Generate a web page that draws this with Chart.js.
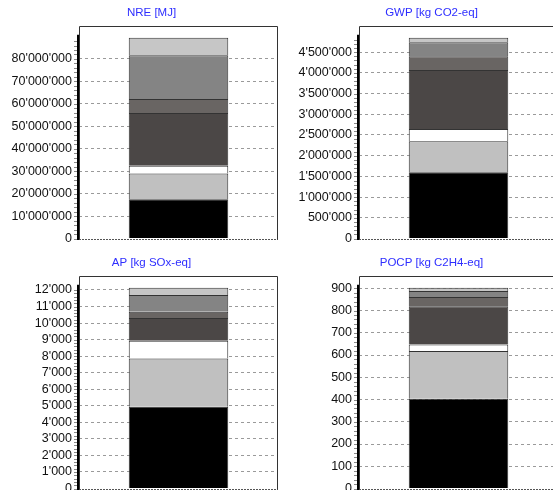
<!DOCTYPE html>
<html>
<head>
<meta charset="utf-8">
<script src="https://cdn.jsdelivr.net/npm/chart.js@4.4.1/dist/chart.umd.min.js"></script>
<style>
  html, body { margin: 0; padding: 0; background: #fff; overflow: hidden; }
  body { width: 553px; height: 490px; position: relative; }
  canvas { position: absolute; }
</style>
</head>
<body>
<canvas id="nre" width="280" height="253" style="left:0;top:0"></canvas>
<canvas id="gwp" width="280" height="253" style="left:280px;top:0"></canvas>
<canvas id="ap" width="280" height="253" style="left:0;top:250px"></canvas>
<canvas id="pocp" width="280" height="253" style="left:280px;top:250px"></canvas>
<script>
// stacked contributions, bottom segment first
const segmentLabels = ["Part 1", "Part 2", "Part 3", "Part 4", "Part 5", "Part 6", "Part 7"];
const nreValues = [17500000, 11500000, 3400000, 23500000, 6300000, 19500000, 7800000];
const gwpValues = [1600000, 750000, 295000, 1425000, 330000, 340000, 110000];
const apValues = [4940, 2920, 1070, 1370, 380, 1010, 450];
const pocpValues = [403, 215, 29, 172, 42, 27, 15];

const panelIds = ["nre", "gwp", "ap", "pocp"];
const panelTitles = ["NRE [MJ]", "GWP [kg CO2-eq]", "AP [kg SOx-eq]", "POCP [kg C2H4-eq]"];
const panelValues = [nreValues, gwpValues, apValues, pocpValues];
const tickSteps = [10000000, 500000, 1000, 100];

const segmentColors = ["#000000", "#c0c0c0", "#ffffff", "#4b4746", "#696563", "#848484", "#c6c6c6"];
const FONT = '"Liberation Sans", Arial, sans-serif';

function fmt(v) {
    return Math.round(v).toString().replace(/\B(?=(\d{3})+(?!\d))/g, "'");
}

const panelDecor = {
    id: "panelDecor",
    beforeDatasetsDraw(chart, args, opts) {
        const ctx = chart.ctx;
        const a = chart.chartArea;
        const y = chart.scales.y;
        const y0 = Math.round(y.getPixelForValue(0)) + 0.5;
        ctx.save();

        // zero line
        ctx.lineWidth = 1;
        ctx.strokeStyle = "#555";
        ctx.setLineDash([2, 1]);
        ctx.beginPath();
        ctx.moveTo(a.left, y0);
        ctx.lineTo(a.right, y0);
        ctx.stroke();

        // frame
        ctx.setLineDash([]);
        ctx.strokeStyle = "#333";
        ctx.beginPath();
        ctx.moveTo(a.left + 0.5, y0);
        ctx.lineTo(a.left + 0.5, a.top + 0.5);
        ctx.lineTo(a.right - 0.5, a.top + 0.5);
        ctx.lineTo(a.right - 0.5, y0);
        ctx.stroke();

        // minor ticks
        ctx.strokeStyle = "#8a8a8a";
        ctx.beginPath();
        const minor = opts.step / 5;
        for (let v = 0; v <= opts.total; v += minor) {
            const py = Math.round(y.getPixelForValue(v)) + 0.5;
            ctx.moveTo(a.left - 5, py);
            ctx.lineTo(a.left - 2, py);
        }
        ctx.stroke();

        // thick axis line
        ctx.strokeStyle = "#000";
        ctx.lineWidth = 2;
        ctx.beginPath();
        ctx.moveTo(a.left - 1, y0 + 0.5);
        ctx.lineTo(a.left - 1, y.getPixelForValue(opts.total) - 3);
        ctx.stroke();

        // title
        ctx.fillStyle = "#2e2eff";
        ctx.font = "11.5px " + FONT;
        ctx.textAlign = "center";
        ctx.textBaseline = "middle";
        ctx.fillText(opts.text, 151.5, 12.5);
        ctx.restore();
    },
};

panelIds.forEach((id, i) => {
    const values = panelValues[i];
    const total = values.reduce((s, v) => s + v, 0);
    const step = tickSteps[i];

    new Chart(document.getElementById(id), {
        type: "bar",
        data: {
            labels: [""],
            datasets: values.map((v, k) => ({
                label: segmentLabels[k],
                data: [v],
                backgroundColor: segmentColors[k],
                borderColor: "#333",
                borderWidth: 1,
                barPercentage: 1,
                categoryPercentage: 0.5,
            })),
        },
        options: {
            responsive: false,
            animation: false,
            layout: { padding: { top: 26, right: 2, bottom: 5.5, left: 0 } },
            plugins: {
                legend: { display: false },
                tooltip: { enabled: false },
                panelDecor: { text: panelTitles[i], total, step },
            },
            scales: {
                x: { stacked: true, display: false },
                y: {
                    stacked: true,
                    min: 0,
                    max: total * 1.058,
                    afterFit: (scale) => { scale.width = 79; },
                    afterBuildTicks: (scale) => {
                        const ticks = [];
                        for (let v = 0; v <= total; v += step) ticks.push({ value: v });
                        scale.ticks = ticks;
                    },
                    border: { display: false, dash: [3, 3] },
                    grid: {
                        drawTicks: false,
                        color: (c) => (c.tick && c.tick.value === 0 ? "rgba(0,0,0,0)" : "#9a9a9a"),
                    },
                    ticks: {
                        autoSkip: false,
                        padding: 7,
                        color: "#111",
                        font: { family: FONT, size: 12.5 },
                        callback: (v) => fmt(v),
                    },
                },
            },
        },
        plugins: [panelDecor],
    });
});
</script>
</body>
</html>
